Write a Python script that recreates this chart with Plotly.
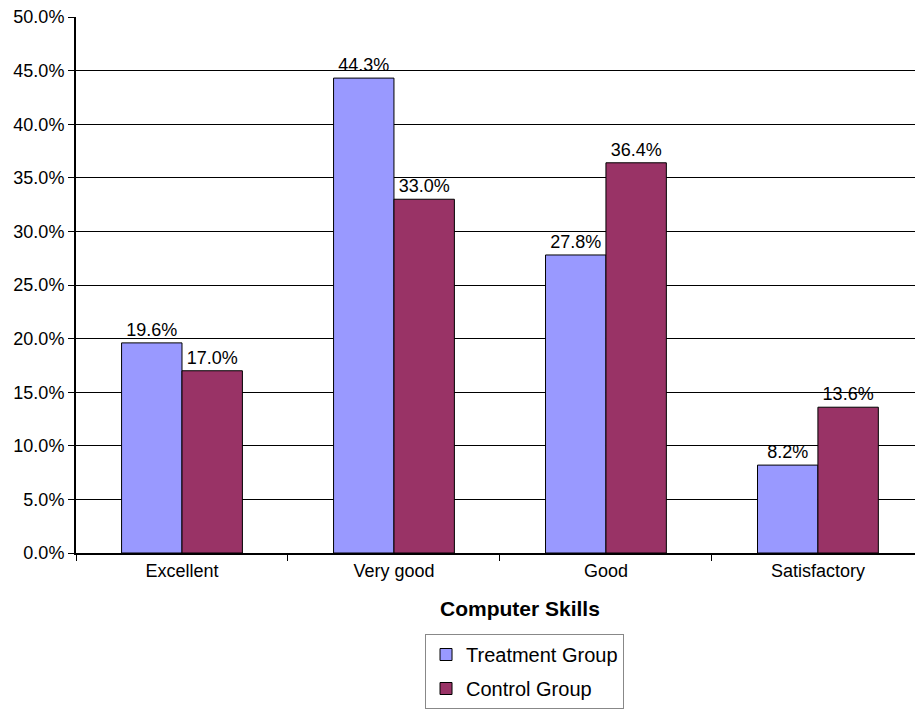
import plotly.graph_objects as go

categories = ["Excellent", "Very good", "Good", "Satisfactory"]
treatment = [19.6, 44.3, 27.8, 8.2]
control = [17.0, 33.0, 36.4, 13.6]
series_names = ["Treatment Group", "Control Group"]

FAM = "Arial, Liberation Sans, sans-serif"
font = dict(family=FAM, size=18, color="black")

fig = go.Figure()
for name, vals, col in [(series_names[0], treatment, "#9999FF"), (series_names[1], control, "#993366")]:
    fig.add_trace(go.Bar(
        x=categories, y=vals, name=name, legendgroup=name,
        marker=dict(color=col, line=dict(color="black", width=1)),
        text=[f"{v:.1f}%" for v in vals], textposition="outside",
        textfont=font, cliponaxis=False,
    ))

fig.update_layout(
    width=915, height=709,
    margin=dict(l=76, r=0, t=17, b=154),
    paper_bgcolor="white", plot_bgcolor="white",
    font=font,
    barmode="group", bargap=0.43, bargroupgap=0,
    showlegend=True,
    legend=dict(x=0.416, y=-0.152, xanchor="left", yanchor="top",
                bordercolor="#888888", borderwidth=1,
                traceorder="grouped", tracegroupgap=5,
                font=dict(family=FAM, size=20, color="black"),
                itemwidth=30),
    xaxis=dict(range=[-0.5, 3.458], showline=True, linecolor="black", linewidth=2,
               ticks="outside", tickson="boundaries", ticklen=6, tickcolor="black",
               showgrid=False, tickfont=font),
    yaxis=dict(range=[0, 50], dtick=5, tickformat=".1f", ticksuffix="%",
               showline=True, linecolor="black", linewidth=2,
               ticks="outside", ticklen=6, tickcolor="black",
               showgrid=True, gridcolor="black", gridwidth=1, zeroline=False,
               tickfont=font),
    annotations=[dict(text="<b>Computer Skills</b>", xref="paper", yref="paper",
                      x=0.529, y=-0.104, xanchor="center", yanchor="middle",
                      showarrow=False, font=dict(family=FAM, size=21, color="black"))],
)

fig.write_html("out.html")
